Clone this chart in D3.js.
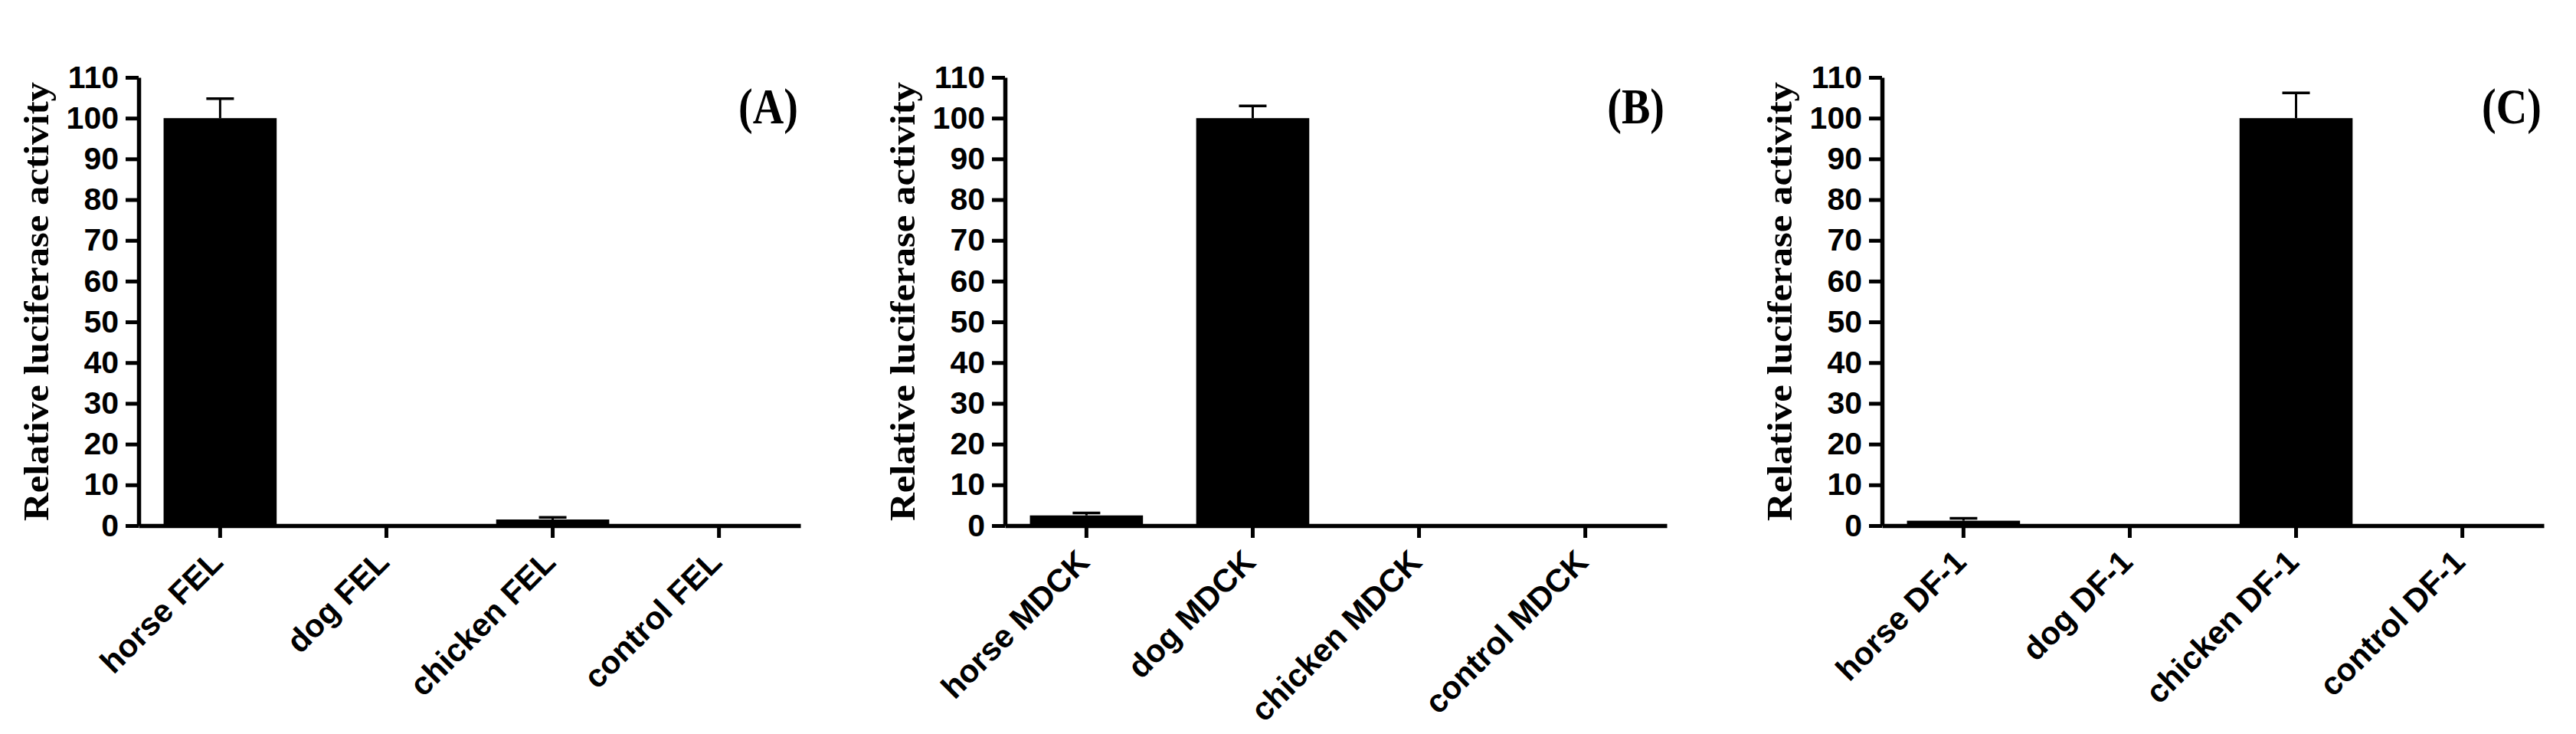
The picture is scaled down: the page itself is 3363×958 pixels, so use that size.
<!DOCTYPE html>
<html><head><meta charset="utf-8">
<script src="https://cdn.jsdelivr.net/npm/d3@7"></script>
<style>
html,body{margin:0;padding:0;background:#fff;}
svg{display:block;}
</style></head>
<body>
<svg id="chart" width="3363" height="958"></svg>
<script>
// ---- data ----
const panelLabels = ["(A)", "(B)", "(C)"];
const catsA = ["horse FEL", "dog FEL", "chicken FEL", "control FEL"];
const catsB = ["horse MDCK", "dog MDCK", "chicken MDCK", "control MDCK"];
const catsC = ["horse DF-1", "dog DF-1", "chicken DF-1", "control DF-1"];
const valuesA = [100, 0, 1.5, 0];
const errorsA = [4.8, 0, 0.5, 0];
const valuesB = [2.5, 100, 0, 0];
const errorsB = [0.6, 3, 0, 0];
const valuesC = [1.2, 0, 100, 0];
const errorsC = [0.6, 0, 6.2, 0];
const yTicks = [0, 10, 20, 30, 40, 50, 60, 70, 80, 90, 100, 110];
const yTitle = "Relative luciferase activity";

// ---- layout ----
const svg = d3.select("#chart");
const panels = [
  {left: 181, cats: catsA, vals: valuesA, errs: errorsA, label: panelLabels[0]},
  {left: 1312, cats: catsB, vals: valuesB, errs: errorsB, label: panelLabels[1]},
  {left: 2457, cats: catsC, vals: valuesC, errs: errorsC, label: panelLabels[2]}
];
const plotTop = 101, plotBottom = 686, plotW = 864;
const sans = "'Liberation Sans', Arial, Helvetica, sans-serif";
const serif = "'Liberation Serif', 'Times New Roman', serif";

panels.forEach(p => {
  const g = svg.append("g").attr("transform", `translate(${p.left},0)`);
  const y = d3.scaleLinear().domain([0, 110]).range([plotBottom, plotTop]);
  const x = d3.scaleBand().domain(p.cats).range([0, plotW]).paddingInner(0.32).paddingOuter(0.15);

  // bars
  g.selectAll("rect.bar").data(p.cats).enter().append("rect")
    .attr("class", "bar")
    .attr("x", d => x(d))
    .attr("width", x.bandwidth())
    .attr("y", (d, i) => y(p.vals[i]))
    .attr("height", (d, i) => y(0) - y(p.vals[i]))
    .attr("fill", "#000");

  // error bars (upper only)
  const capW = 36;
  p.cats.forEach((c, i) => {
    if (p.errs[i] <= 0) return;
    const cx = x(c) + x.bandwidth() / 2;
    g.append("line").attr("x1", cx).attr("x2", cx)
      .attr("y1", y(p.vals[i])).attr("y2", y(p.vals[i] + p.errs[i]))
      .attr("stroke", "#000").attr("stroke-width", 3);
    g.append("line").attr("x1", cx - capW / 2).attr("x2", cx + capW / 2)
      .attr("y1", y(p.vals[i] + p.errs[i])).attr("y2", y(p.vals[i] + p.errs[i]))
      .attr("stroke", "#000").attr("stroke-width", 3.5);
  });

  // y axis
  const ya = g.append("g").call(d3.axisLeft(y).tickValues(yTicks).tickSize(17).tickSizeOuter(0).tickPadding(9));
  ya.select(".domain").attr("stroke", "#000").attr("stroke-width", 5.5);
  ya.selectAll(".tick line").attr("stroke", "#000").attr("stroke-width", 5);
  ya.selectAll(".tick text").attr("font-family", sans).attr("font-weight", "bold")
    .attr("font-size", 41).attr("fill", "#000");

  // x axis
  const xa = g.append("g").attr("transform", `translate(0,${plotBottom})`)
    .call(d3.axisBottom(x).tickSize(16).tickSizeOuter(0));
  xa.select(".domain").attr("stroke", "#000").attr("stroke-width", 5.5);
  xa.selectAll(".tick line").attr("stroke", "#000").attr("stroke-width", 5);
  xa.selectAll(".tick text")
    .attr("font-family", sans).attr("font-weight", "bold")
    .attr("font-size", 42).attr("fill", "#000")
    .attr("text-anchor", "end")
    .attr("dy", null).attr("y", null)
    .attr("transform", "translate(6,50) rotate(-45)");

  // y title
  g.append("text")
    .attr("transform", `translate(-118,${(plotTop + plotBottom) / 2}) rotate(-90)`)
    .attr("text-anchor", "middle")
    .attr("font-family", serif).attr("font-weight", "bold").attr("font-size", 47)
    .attr("textLength", 573).attr("lengthAdjust", "spacingAndGlyphs")
    .text(yTitle);

  // panel label
  g.append("text")
    .attr("transform", `translate(${plotW - 3},161) scale(0.85,1)`)
    .attr("text-anchor", "end")
    .attr("font-family", serif).attr("font-weight", "bold").attr("font-size", 66)
    .text(p.label);
});
</script>
</body></html>
